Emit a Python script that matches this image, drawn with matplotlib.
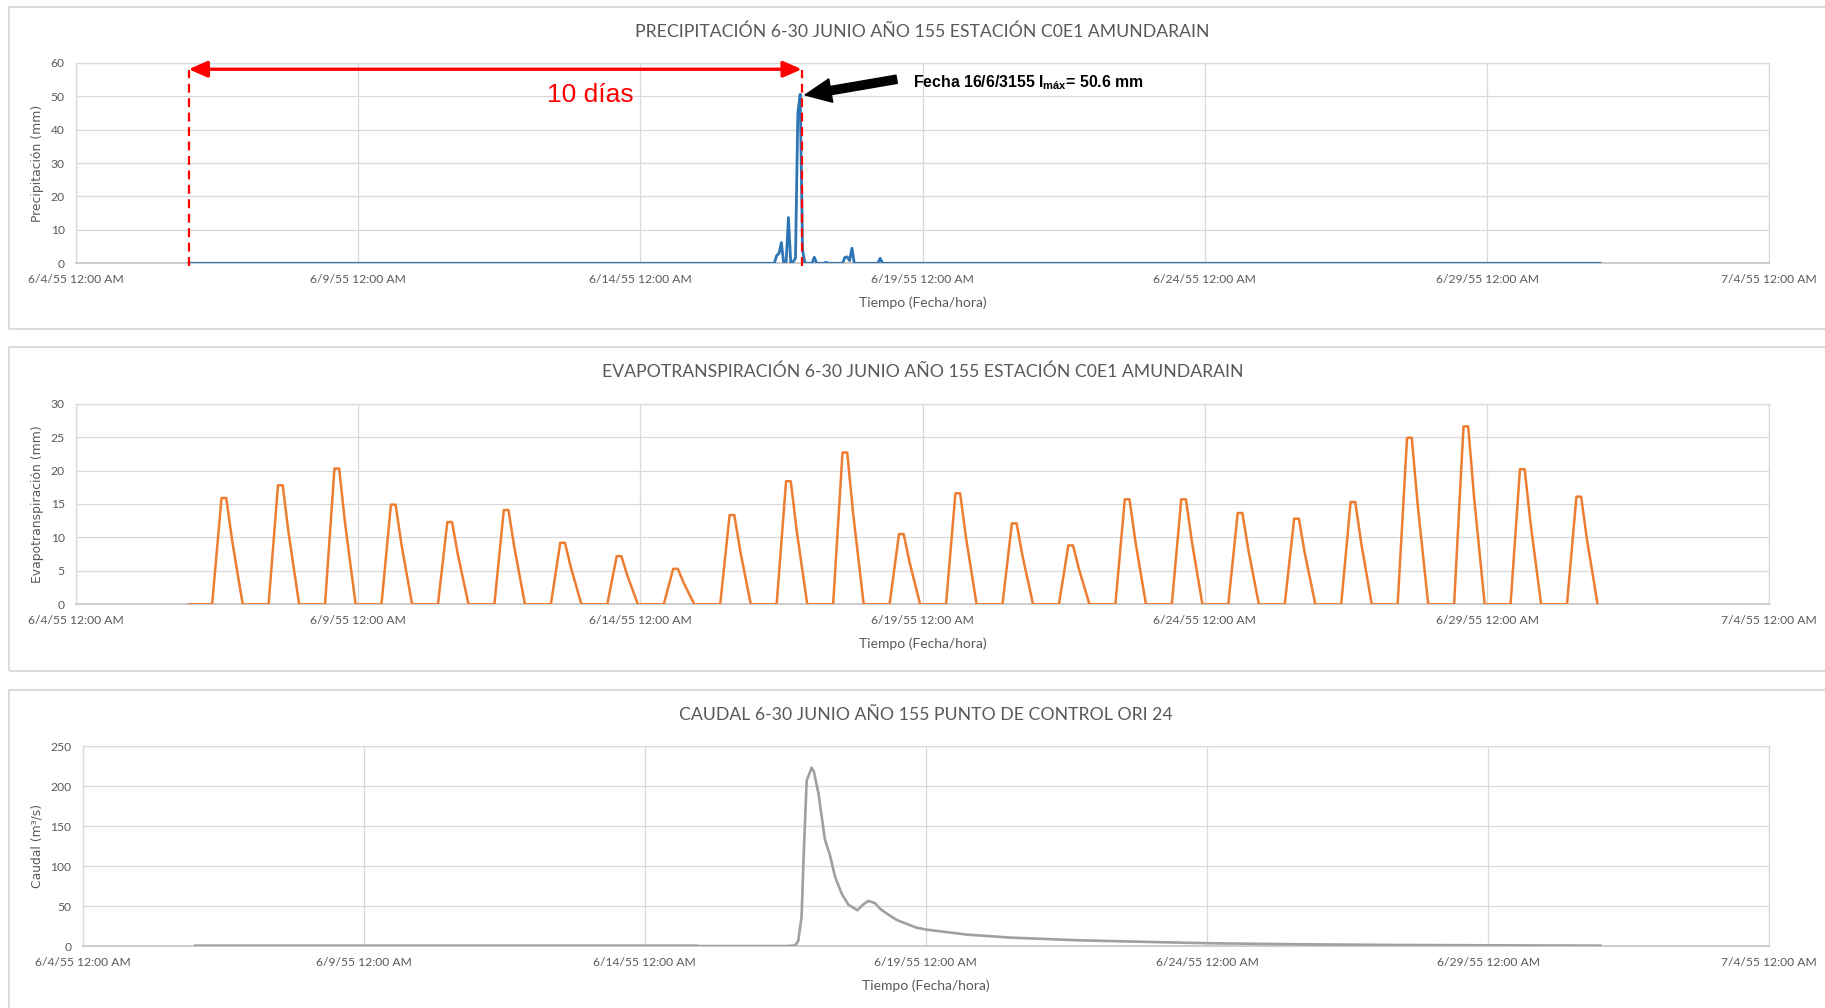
import numpy as np
import matplotlib.pyplot as plt
from matplotlib.patches import Rectangle

# eje de tiempo: días desde 6/4/55 00:00
tick_dias = [0, 5, 10, 15, 20, 25, 30]
tick_labels = ["6/4/55 12:00 AM", "6/9/55 12:00 AM", "6/14/55 12:00 AM",
               "6/19/55 12:00 AM", "6/24/55 12:00 AM", "6/29/55 12:00 AM",
               "7/4/55 12:00 AM"]
inicio = 2.0   # 6/6/55 00:00
fin = 27.0     # 7/1/55 00:00
dia_evento = 12  # 6/16/55

# precipitación horaria (horas desde 6/16 00:00), resto cero
lluvia_h = [9, 10, 11, 12, 13, 14, 15, 16, 17, 18, 19, 20, 21, 22,
            25, 26, 27, 30, 31, 32, 38, 39, 40, 41, 42, 43, 53, 54, 55]
lluvia_mm = [0, 2.3, 3.0, 6.2, 0, 0, 13.7, 0, 0.5, 1.5, 45.0, 50.6, 4.0, 0,
             0, 1.8, 0, 0, 0.3, 0, 0, 1.8, 1.9, 0.8, 4.5, 0, 0, 1.5, 0]

# evapotranspiración: máximo diario (6/6 ... 6/30) y forma del ciclo diario
et_pico = [15.9, 17.8, 20.3, 14.9, 12.3, 14.1, 9.2, 7.2, 5.3, 13.35, 18.4,
           22.7, 10.5, 16.6, 12.1, 8.8, 15.7, 15.7, 13.65, 12.8, 15.3, 24.9,
           26.6, 20.2, 16.1]
et_horas = [10, 14, 16, 18.5, 23]
et_forma = [0, 1, 1, 0.6, 0]

# caudal (día desde 6/4, m3/s)
caudal_dia = [2.0, 10.92, 10.96, 12.5, 12.671, 12.729, 12.788, 12.829, 12.879,
              12.967, 13.008, 13.088, 13.146, 13.204, 13.292, 13.383, 13.5,
              13.621, 13.779, 13.888, 13.975, 14.092, 14.183, 14.3, 14.479,
              14.658, 14.833, 15.013, 15.73, 16.52, 17.72, 18.99, 20.10,
              21.69, 23.27, 25.02, 27.0]
caudal_m3s = [0.8, 0.8, 0.3, 0.3, 1.0, 6.7, 37, 120, 207, 223, 218, 191, 162,
              133, 114, 87, 66, 52, 45, 52.5, 56.7, 54, 47, 41, 33, 28, 23.3,
              20.8, 14.6, 10.8, 7.5, 5.4, 3.75, 2.5, 1.7, 1.25, 0.8]

GRIS = "#595959"
REJILLA = "#d9d9d9"
FUENTE = "Lato"


def estilo(ax, ymax, ypaso, ylabel, titulo):
    ax.set_xlim(0, 30)
    ax.set_ylim(0, ymax)
    ax.set_xticks(tick_dias)
    ax.set_xticklabels(tick_labels)
    ax.set_yticks(np.arange(0, ymax + 1, ypaso))
    ax.tick_params(length=0, pad=8, labelsize=8.7, labelcolor=GRIS)
    for lab in ax.get_xticklabels() + ax.get_yticklabels():
        lab.set_family(FUENTE)
    ax.grid(True, color=REJILLA, lw=0.9)
    ax.set_axisbelow(True)
    for s in ax.spines.values():
        s.set_color(REJILLA)
        s.set_linewidth(0.9)
    ax.spines["bottom"].set_color("#c8c8c8")
    ax.spines["bottom"].set_linewidth(1.3)
    ax.set_ylabel(ylabel, family="DejaVu Sans", fontsize=8.9, color=GRIS,
                  labelpad=5)
    ax.text(0.5, -0.195, "Tiempo (Fecha/hora)", transform=ax.transAxes,
            ha="center", va="center", family=FUENTE, fontsize=10, color=GRIS)
    ax.text(0.5, 1.157, titulo, transform=ax.transAxes, ha="center",
            va="center", family=FUENTE, fontsize=12.7, color=GRIS)


fig = plt.figure(figsize=(18.25, 10.08), dpi=100)

# marcos de cada gráfico
for y0, y1 in [(0.6732, 0.9931), (0.3348, 0.6558), (-0.01, 0.3155)]:
    fig.add_artist(Rectangle((0.0051, y0), 1.2, y1 - y0, transform=fig.transFigure,
                             fill=False, edgecolor=REJILLA, lw=1.3))

ax1 = fig.add_axes([0.04148, 0.7388, 0.9280, 0.1988])
ax2 = fig.add_axes([0.04148, 0.4005, 0.9280, 0.1990])
ax3 = fig.add_axes([0.04526, 0.0612, 0.9242, 0.1986])

# precipitación
t = inicio + np.arange(int((fin - inicio) * 24) + 1) / 24
p = np.zeros(t.size)
for h, v in zip(lluvia_h, lluvia_mm):
    p[(dia_evento - 2) * 24 + h] = v
ax1.plot(t, p, color="#2e75b6", lw=2.0, zorder=3)
estilo(ax1, 60, 10, "Precipitación (mm)",
       "PRECIPITACIÓN 6-30 JUNIO AÑO 155 ESTACIÓN C0E1 AMUNDARAIN")

# anotaciones
x_fin = dia_evento + 20.7 / 24
for xv in [inicio, x_fin]:
    ax1.plot([xv, xv], [-0.8, 58], color="red", lw=1.6, ls=(0, (4, 2.5)),
             zorder=4, clip_on=False)
ax1.annotate("", xy=(inicio, 58.1), xytext=(x_fin, 58.1),
             arrowprops=dict(arrowstyle="<|-|>,head_length=0.8,head_width=0.35",
                             color="red", lw=2.4, shrinkA=0, shrinkB=0,
                             mutation_scale=14))
ax1.text(9.11, 50.5, "10 días", color="red",
         family="Liberation Sans", fontsize=19, ha="center", va="center")
ax1.annotate("", xy=(dia_evento + 22.1 / 24, 50.4),
             xytext=(dia_evento + 61 / 24, 55.1),
             arrowprops=dict(arrowstyle="simple,head_width=1.0,head_length=1.1,tail_width=0.35",
                             color="black", shrinkA=0, shrinkB=0,
                             mutation_scale=17))
ax1.text(14.84, 54.1, r"Fecha 16/6/3155 I$_{\mathregular{máx}}$= 50.6 mm",
         family="Liberation Sans", fontweight="bold", fontsize=11.4,
         ha="left", va="center", color="black")

# evapotranspiración
te = [inicio]
ev = [0.0]
for d, pico in enumerate(et_pico):
    for h, f in zip(et_horas, et_forma):
        te.append(inicio + d + h / 24)
        ev.append(pico * f)
ax2.plot(te, ev, color="#ed7d31", lw=1.8, zorder=3)
estilo(ax2, 30, 5, "Evapotranspiración (mm)",
       "EVAPOTRANSPIRACIÓN 6-30 JUNIO AÑO 155 ESTACIÓN C0E1 AMUNDARAIN")

# caudal
ax3.plot(caudal_dia, caudal_m3s, color="#a0a0a0", lw=1.9, zorder=3)
estilo(ax3, 250, 50, "Caudal (m³/s)",
       "CAUDAL 6-30 JUNIO AÑO 155 PUNTO DE CONTROL ORI 24")

fig.savefig("out.png", dpi=100)
